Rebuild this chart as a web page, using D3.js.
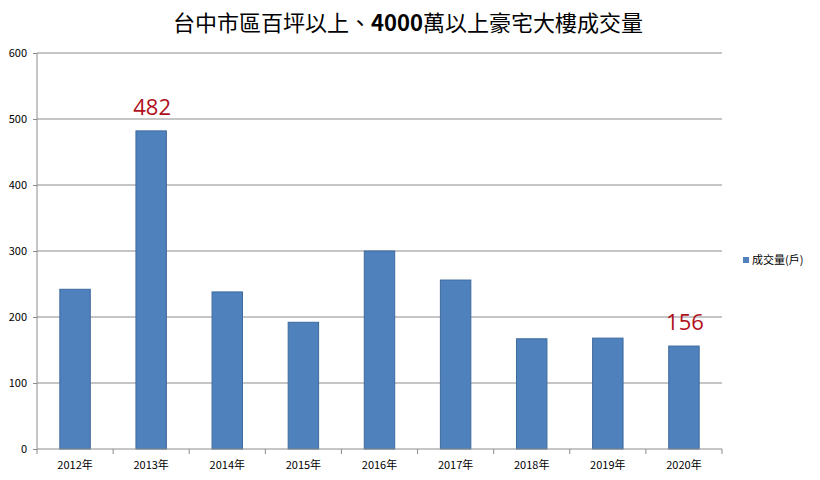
<!DOCTYPE html>
<html><head><meta charset="utf-8">
<script src="https://cdn.jsdelivr.net/npm/d3@7"></script>
<style>body{margin:0;background:#fff;} svg{display:block;}</style>
</head><body>
<svg id="c" width="820" height="480"></svg>
<script>
const categories = ["2012年","2013年","2014年","2015年","2016年","2017年","2018年","2019年","2020年"];
const values = [242, 482, 238, 192, 300, 256, 167, 168, 156];
const yTicks = [0,100,200,300,400,500,600];
const labeled = [{cat:"2013年", text:"482"},{cat:"2020年", text:"156"}];
const title = "台中市區百坪以上、4000萬以上豪宅大樓成交量";
const seriesName = "成交量(戶)";

const svg = d3.select("#c");
const m = {l:37, r:722, t:53, b:449};
const font = "'Noto Sans CJK TC','Noto Sans',sans-serif";
const x = d3.scaleBand().domain(categories).range([m.l, m.r]).paddingInner(0.6).paddingOuter(0.3);
const xb = d3.scaleBand().domain(categories).range([m.l, m.r]);
const y = d3.scaleLinear().domain([0,600]).range([m.b, m.t]);

svg.append("g").selectAll("line").data(yTicks.filter(d=>d>0)).join("line")
  .attr("x1", m.l).attr("x2", m.r).attr("y1", d=>y(d)).attr("y2", d=>y(d))
  .attr("stroke","#8c8c8c").attr("stroke-width",1);

svg.append("g").selectAll("rect").data(values).join("rect")
  .attr("x",(d,i)=>x(categories[i])).attr("width", x.bandwidth())
  .attr("y", d=>y(d)).attr("height", d=>y(0)-y(d))
  .attr("fill","#4f81bd").attr("stroke","#3e6a9e").attr("stroke-width",1);

const ya = d3.axisLeft(y).tickValues(yTicks).tickSize(4).tickPadding(6);
const gy = svg.append("g").attr("transform",`translate(${m.l},0)`).call(ya);
gy.select(".domain").attr("stroke","#8c8c8c").attr("d",`M0,${m.t}V${m.b}`);
gy.selectAll(".tick line").attr("stroke","#8c8c8c");
gy.selectAll("text").attr("font-family",font).attr("font-size",11).attr("fill","#000");

const gx = svg.append("g").attr("transform",`translate(0,${m.b})`);
gx.append("line").attr("x1",m.l).attr("x2",m.r).attr("stroke","#8c8c8c");
gx.selectAll("line.t").data(categories.concat(["_end"])).join("line").attr("class","t")
  .attr("x1",(d,i)=>m.l+i*xb.step()).attr("x2",(d,i)=>m.l+i*xb.step())
  .attr("y1",0).attr("y2",5).attr("stroke","#8c8c8c");
gx.selectAll("text").data(categories).join("text")
  .attr("x",d=>xb(d)+xb.bandwidth()/2).attr("y",20).attr("text-anchor","middle")
  .attr("font-family",font).attr("font-size",11).text(d=>d);

svg.selectAll("text.ann").data(labeled).join("text").attr("class","ann")
  .attr("x",d=>x(d.cat)+x.bandwidth()/2+1)
  .attr("y",d=>y(values[categories.indexOf(d.cat)])-16)
  .attr("text-anchor","middle").attr("font-family","'Open Sans','Noto Sans',sans-serif")
  .attr("font-size",22).attr("fill","#b0101c").text(d=>d.text);

svg.append("text").attr("x",408).attr("y",31).attr("text-anchor","middle")
  .attr("font-family",font).attr("font-size",22).attr("fill","#000")
  .html("台中市區百坪以上、<tspan font-weight='bold'>4000</tspan>萬以上豪宅大樓成交量");

svg.append("rect").attr("x",743).attr("y",257).attr("width",6).attr("height",6).attr("fill","#4f81bd");
svg.append("text").attr("x",752).attr("y",264).attr("font-family",font).attr("font-size",11).text(seriesName);
</script>
</body></html>
